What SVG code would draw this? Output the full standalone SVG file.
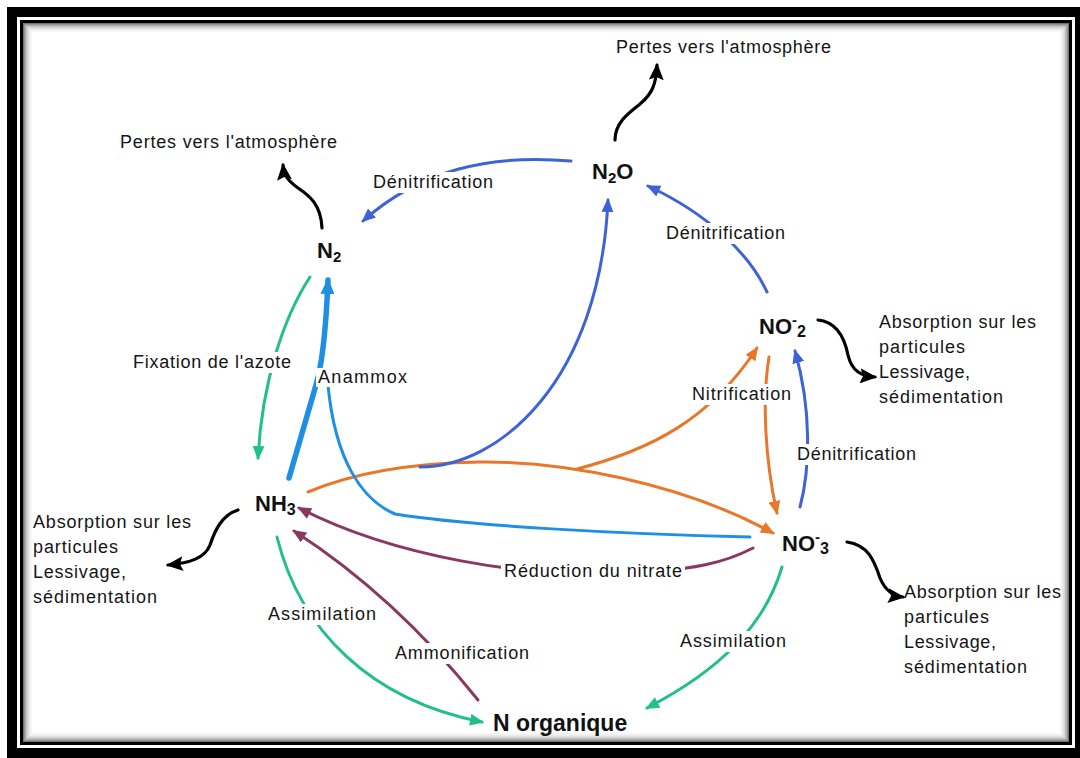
<svg xmlns="http://www.w3.org/2000/svg" width="1080" height="758" viewBox="0 0 1080 758">
<defs>
<style>
.lbl{font-family:"Liberation Sans",Arial,sans-serif;font-size:18px;fill:#151515}
.nd{font-family:"Liberation Sans",Arial,sans-serif;font-size:22px;font-weight:bold;fill:#111}
.bg{fill:#fff}
.c{fill:none;stroke-width:3;stroke-linecap:round}
.den{stroke:#3e63d6}
.ana{stroke:#1e8fe3}
.tea{stroke:#22bf8c}
.ora{stroke:#e9772a}
.pur{stroke:#8a3862}
.blk{stroke:#000;stroke-width:3.2}
</style>
<marker id="mDen" markerUnits="userSpaceOnUse" markerWidth="14" markerHeight="12" refX="12" refY="6" orient="auto"><path d="M0,0 L14,6 L0,12 z" fill="#3e63d6"/></marker>
<marker id="mAna" markerUnits="userSpaceOnUse" markerWidth="16" markerHeight="14" refX="14" refY="7" orient="auto"><path d="M0,0 L16,7 L0,14 z" fill="#1e8fe3"/></marker>
<marker id="mTea" markerUnits="userSpaceOnUse" markerWidth="14" markerHeight="12" refX="12" refY="6" orient="auto"><path d="M0,0 L14,6 L0,12 z" fill="#22bf8c"/></marker>
<marker id="mOra" markerUnits="userSpaceOnUse" markerWidth="14" markerHeight="12" refX="12" refY="6" orient="auto"><path d="M0,0 L14,6 L0,12 z" fill="#e9772a"/></marker>
<marker id="mPur" markerUnits="userSpaceOnUse" markerWidth="14" markerHeight="12" refX="12" refY="6" orient="auto"><path d="M0,0 L14,6 L0,12 z" fill="#8a3862"/></marker>
<marker id="mBlk" markerUnits="userSpaceOnUse" markerWidth="17" markerHeight="15" refX="15" refY="7.5" orient="auto"><path d="M0,0 L17,7.5 L0,15 L3,7.5 z" fill="#000"/></marker>
</defs>

<g id="frame">
<rect x="0" y="0" width="1080" height="758" fill="#fff"/>
<rect x="7" y="7" width="1080" height="760" fill="#000"/>
<rect x="17" y="17" width="1058" height="731" fill="#fff"/>
<rect x="20" y="20" width="1052" height="725" fill="#000"/>
<rect x="23" y="23" width="1046" height="719" fill="#fff"/>
<g fill="none" stroke="#000">
<rect x="23.5" y="23.5" width="1045" height="718" stroke-opacity="0.55"/>
<rect x="24.5" y="24.5" width="1043" height="716" stroke-opacity="0.42"/>
<rect x="25.5" y="25.5" width="1041" height="714" stroke-opacity="0.32"/>
<rect x="26.5" y="26.5" width="1039" height="712" stroke-opacity="0.24"/>
<rect x="27.5" y="27.5" width="1037" height="710" stroke-opacity="0.17"/>
<rect x="28.5" y="28.5" width="1035" height="708" stroke-opacity="0.12"/>
<rect x="29.5" y="29.5" width="1033" height="706" stroke-opacity="0.08"/>
<rect x="30.5" y="30.5" width="1031" height="704" stroke-opacity="0.05"/>
<rect x="31.5" y="31.5" width="1029" height="702" stroke-opacity="0.03"/>
</g>
</g>

<g id="connectors">
<path class="c den" d="M571,161 C490,154 420,170 363,221" marker-end="url(#mDen)"/>
<path class="c den" d="M767,292 C750,255 710,215 648,186" marker-end="url(#mDen)"/>
<path class="c ora" d="M308,492 C360,470 420,463 480,462 C560,461 680,482 773,533" marker-end="url(#mOra)"/>
<path class="c den" d="M420,467 C500,467 600,380 608,200" marker-end="url(#mDen)"/>
<path class="c ora" d="M577,469 C650,450 710,420 757,348" marker-end="url(#mOra)"/>
<path class="c ora" d="M769,357 C762,400 765,460 777,513" marker-end="url(#mOra)"/>
<path class="c den" d="M800,507 C810,470 812,410 795,351" marker-end="url(#mDen)"/>
<path class="c tea" d="M310,277 C285,315 262,380 258,458" marker-end="url(#mTea)"/>
<path class="c ana" d="M750,537 C620,534 470,526 395,514 C362,500 335,460 328,385"/>
<path class="c ana" style="stroke-width:5.5" d="M289,478 L316,385 C322,365 326,330 328,280" marker-end="url(#mAna)"/>
<path class="c pur" d="M753,548 C730,560 700,572 600,574 C530,575 400,560 299,508" marker-end="url(#mPur)"/>
<path class="c pur" d="M478,700 C430,640 370,580 294,531" marker-end="url(#mPur)"/>
<path class="c tea" d="M277,537 C300,630 370,700 482,722" marker-end="url(#mTea)"/>
<path class="c tea" d="M782,567 C765,625 720,670 647,708" marker-end="url(#mTea)"/>
<path class="c blk" d="M322,228 C321,205 310,196 298,188 C287,180 284,175 283,165" marker-end="url(#mBlk)"/>
<path class="c blk" d="M615,140 C615,122 630,112 640,104 C652,94 656,85 657,65" marker-end="url(#mBlk)"/>
<path class="c blk" d="M818,320 C838,322 845,340 848,355 C852,372 862,376 875,377" marker-end="url(#mBlk)"/>
<path class="c blk" d="M847,542 C868,545 874,560 880,578 C885,590 892,596 903,597" marker-end="url(#mBlk)"/>
<path class="c blk" d="M238,510 C222,515 215,530 210,545 C205,558 190,563 168,565" marker-end="url(#mBlk)"/>
</g>

<g id="lbl-den1"><rect class="bg" x="370" y="172" width="127" height="21"/><text class="lbl" x="373" y="188" textLength="120" lengthAdjust="spacing">Dénitrification</text></g>
<g id="lbl-den2"><rect class="bg" x="663" y="223" width="125" height="21"/><text class="lbl" x="666" y="239" textLength="119" lengthAdjust="spacing">Dénitrification</text></g>
<g id="lbl-den3"><rect class="bg" x="794" y="444" width="125" height="21"/><text class="lbl" x="797" y="460" textLength="119" lengthAdjust="spacing">Dénitrification</text></g>
<g id="lbl-nit"><rect class="bg" x="689" y="384" width="106" height="21"/><text class="lbl" x="692" y="400" textLength="99" lengthAdjust="spacing">Nitrification</text></g>
<g id="lbl-fix"><rect class="bg" x="130" y="352" width="165" height="21"/><text class="lbl" x="133" y="368" textLength="158" lengthAdjust="spacing">Fixation de l'azote</text></g>
<g id="lbl-ana"><rect class="bg" x="316" y="368" width="93" height="19"/><text class="lbl" x="318" y="383" textLength="89" lengthAdjust="spacing">Anammox</text></g>
<g id="lbl-red"><rect class="bg" x="501" y="561" width="184" height="21"/><text class="lbl" x="504" y="577" textLength="178" lengthAdjust="spacing">Réduction du nitrate</text></g>
<g id="lbl-ass1"><rect class="bg" x="265" y="604" width="114" height="21"/><text class="lbl" x="268" y="620" textLength="108" lengthAdjust="spacing">Assimilation</text></g>
<g id="lbl-amm"><rect class="bg" x="392" y="643" width="140" height="21"/><text class="lbl" x="395" y="659" textLength="134" lengthAdjust="spacing">Ammonification</text></g>
<g id="lbl-ass2"><rect class="bg" x="677" y="631" width="112" height="21"/><text class="lbl" x="680" y="647" textLength="106" lengthAdjust="spacing">Assimilation</text></g>

<g id="loss-top"><text class="lbl" x="616" y="53" textLength="215" lengthAdjust="spacing">Pertes vers l'atmosphère</text></g>
<g id="loss-left"><text class="lbl" x="120" y="148" textLength="217" lengthAdjust="spacing">Pertes vers l'atmosphère</text></g>
<g id="abs-no2">
<text class="lbl" x="879" y="328" textLength="157" lengthAdjust="spacing">Absorption sur les</text>
<text class="lbl" x="879" y="353" textLength="86" lengthAdjust="spacing">particules</text>
<text class="lbl" x="879" y="378" textLength="91" lengthAdjust="spacing">Lessivage,</text>
<text class="lbl" x="879" y="403" textLength="124" lengthAdjust="spacing">sédimentation</text>
</g>
<g id="abs-no3">
<text class="lbl" x="904" y="598" textLength="157" lengthAdjust="spacing">Absorption sur les</text>
<text class="lbl" x="904" y="623" textLength="85" lengthAdjust="spacing">particules</text>
<text class="lbl" x="904" y="648" textLength="92" lengthAdjust="spacing">Lessivage,</text>
<text class="lbl" x="904" y="673" textLength="123" lengthAdjust="spacing">sédimentation</text>
</g>
<g id="abs-nh3">
<text class="lbl" x="33" y="528" textLength="158" lengthAdjust="spacing">Absorption sur les</text>
<text class="lbl" x="33" y="553" textLength="85" lengthAdjust="spacing">particules</text>
<text class="lbl" x="33" y="578" textLength="93" lengthAdjust="spacing">Lessivage,</text>
<text class="lbl" x="33" y="603" textLength="124" lengthAdjust="spacing">sédimentation</text>
</g>

<g id="node-n2"><text class="nd" x="317" y="258">N<tspan dy="4" font-size="15">2</tspan></text></g>
<g id="node-n2o"><text class="nd" x="592" y="179">N<tspan dy="4" font-size="15">2</tspan><tspan dy="-4">O</tspan></text></g>
<g id="node-no2"><text class="nd" x="759" y="334">NO<tspan dy="-9" font-size="15">-</tspan><tspan dy="12" font-size="16">2</tspan></text></g>
<g id="node-no3"><text class="nd" x="782" y="551">NO<tspan dy="-9" font-size="15">-</tspan><tspan dy="12" font-size="16">3</tspan></text></g>
<g id="node-nh3"><text class="nd" x="255" y="511">NH<tspan dy="4" font-size="16">3</tspan></text></g>
<g id="node-norg"><text class="nd" x="493" y="731" style="font-size:23px">N organique</text></g>
</svg>
